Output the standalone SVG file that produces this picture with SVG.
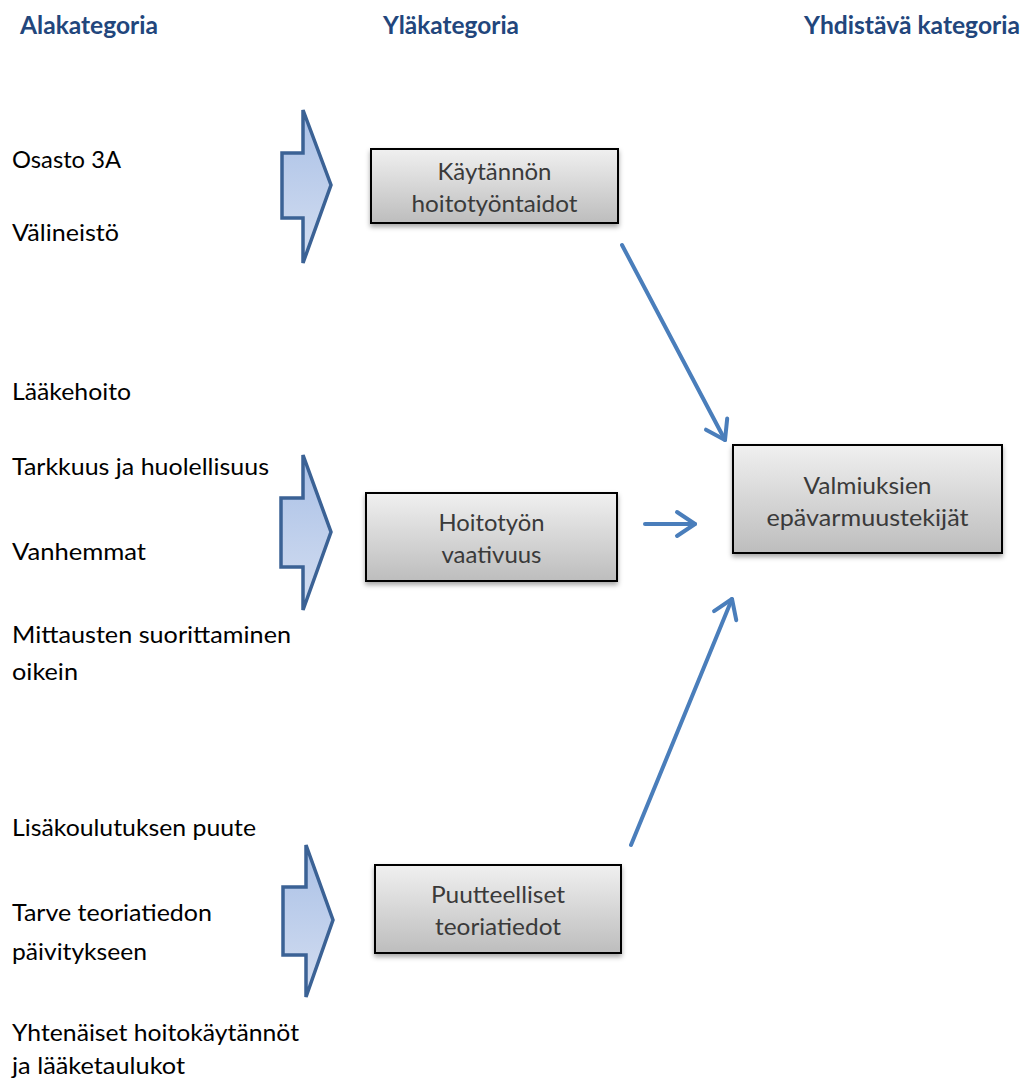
<svg xmlns="http://www.w3.org/2000/svg" width="1025" height="1079" viewBox="0 0 1025 1079">
<style>
.hdr{font-family:Lato,"Liberation Sans",sans-serif;font-weight:bold;font-size:24px;fill:#22467c}
.lbl{font-family:Lato,"Liberation Sans",sans-serif;font-size:23.5px;fill:#000}
.box{fill:url(#gBox);stroke:#000;stroke-width:2;filter:url(#sh)}
.btx{font-family:Lato,"Liberation Sans",sans-serif;font-size:23px;fill:#3a3a3a;text-anchor:middle}
.blk{fill:url(#gBlk);stroke:#3b6295;stroke-width:3.5;stroke-linejoin:miter}
.con{stroke:#4a7ebb;stroke-width:4;fill:none;stroke-linecap:round;marker-end:url(#chev)}
</style>
<defs>
<linearGradient id="gBox" x1="0" y1="0" x2="0" y2="1">
<stop offset="0" stop-color="#f0f0f0"/><stop offset="1" stop-color="#bdbdbd"/>
</linearGradient>
<linearGradient id="gBlk" x1="0" y1="0" x2="0" y2="1">
<stop offset="0" stop-color="#a9c0e6"/><stop offset="1" stop-color="#d4def1"/>
</linearGradient>
<filter id="sh" x="-10%" y="-10%" width="120%" height="140%">
<feDropShadow dx="0" dy="3" stdDeviation="2.5" flood-color="#000" flood-opacity="0.35"/>
</filter>
<marker id="chev" markerUnits="userSpaceOnUse" markerWidth="30" markerHeight="30" viewBox="-22 -15 30 30" refX="0" refY="0" orient="auto">
<path d="M-18,-12 L0,0 L-18,12" fill="none" stroke="#4a7ebb" stroke-width="4" stroke-linecap="round" stroke-linejoin="round"/>
</marker>
</defs>

<g id="headers">
<text class="hdr" x="20" y="34" textLength="138" lengthAdjust="spacingAndGlyphs">Alakategoria</text>
<text class="hdr" x="383" y="34" textLength="136" lengthAdjust="spacingAndGlyphs">Yläkategoria</text>
<text class="hdr" x="804" y="34" textLength="216" lengthAdjust="spacingAndGlyphs">Yhdistävä kategoria</text>
</g>

<g id="labels">
<text class="lbl" x="12" y="168" textLength="109" lengthAdjust="spacingAndGlyphs">Osasto 3A</text>
<text class="lbl" x="12" y="241" textLength="107" lengthAdjust="spacingAndGlyphs">Välineistö</text>
<text class="lbl" x="12" y="400" textLength="119" lengthAdjust="spacingAndGlyphs">Lääkehoito</text>
<text class="lbl" x="12" y="475" textLength="257" lengthAdjust="spacingAndGlyphs">Tarkkuus ja huolellisuus</text>
<text class="lbl" x="12" y="560" textLength="134" lengthAdjust="spacingAndGlyphs">Vanhemmat</text>
<text class="lbl" x="12" y="643" textLength="279" lengthAdjust="spacingAndGlyphs">Mittausten suorittaminen</text>
<text class="lbl" x="12" y="680" textLength="66" lengthAdjust="spacingAndGlyphs">oikein</text>
<text class="lbl" x="12" y="836" textLength="244" lengthAdjust="spacingAndGlyphs">Lisäkoulutuksen puute</text>
<text class="lbl" x="12" y="921" textLength="200" lengthAdjust="spacingAndGlyphs">Tarve teoriatiedon</text>
<text class="lbl" x="12" y="960" textLength="135" lengthAdjust="spacingAndGlyphs">päivitykseen</text>
<text class="lbl" x="12" y="1041" textLength="287" lengthAdjust="spacingAndGlyphs">Yhtenäiset hoitokäytännöt</text>
<text class="lbl" x="12" y="1074" textLength="173" lengthAdjust="spacingAndGlyphs">ja lääketaulukot</text>
</g>

<g id="blockarrow1">
<polygon class="blk" points="282,153 303,153 303,110 331,185 303,263 303,218 282,218"/>
</g>
<g id="blockarrow2">
<polygon class="blk" points="281,498 303,498 303,455 331,532 303,610 303,567 281,567"/>
</g>
<g id="blockarrow3">
<polygon class="blk" points="283,887 306,887 306,845 333,920 306,997 306,955 283,955"/>
</g>

<g id="node-kaytannon">
<rect class="box" x="371" y="149" width="247" height="74"/>
<text class="btx" x="494.5" y="180" textLength="114" lengthAdjust="spacingAndGlyphs">Käytännön</text>
<text class="btx" x="494.5" y="212" textLength="166" lengthAdjust="spacingAndGlyphs">hoitotyöntaidot</text>
</g>
<g id="node-hoitotyon">
<rect class="box" x="366" y="493" width="251" height="88"/>
<text class="btx" x="491.5" y="531" textLength="106" lengthAdjust="spacingAndGlyphs">Hoitotyön</text>
<text class="btx" x="491.5" y="563" textLength="100" lengthAdjust="spacingAndGlyphs">vaativuus</text>
</g>
<g id="node-puutteelliset">
<rect class="box" x="375" y="865" width="246" height="88"/>
<text class="btx" x="498" y="903" textLength="134" lengthAdjust="spacingAndGlyphs">Puutteelliset</text>
<text class="btx" x="498" y="935" textLength="126" lengthAdjust="spacingAndGlyphs">teoriatiedot</text>
</g>
<g id="node-valmiuksien">
<rect class="box" x="733" y="445" width="269" height="108"/>
<text class="btx" x="867.5" y="494" textLength="128" lengthAdjust="spacingAndGlyphs">Valmiuksien</text>
<text class="btx" x="867.5" y="526" textLength="202" lengthAdjust="spacingAndGlyphs">epävarmuustekijät</text>
</g>

<g id="connectors">
<line class="con" x1="622" y1="245" x2="725" y2="440"/>
<line class="con" x1="645" y1="524" x2="695" y2="524"/>
<line class="con" x1="631" y1="845" x2="732" y2="599"/>
</g>
</svg>
